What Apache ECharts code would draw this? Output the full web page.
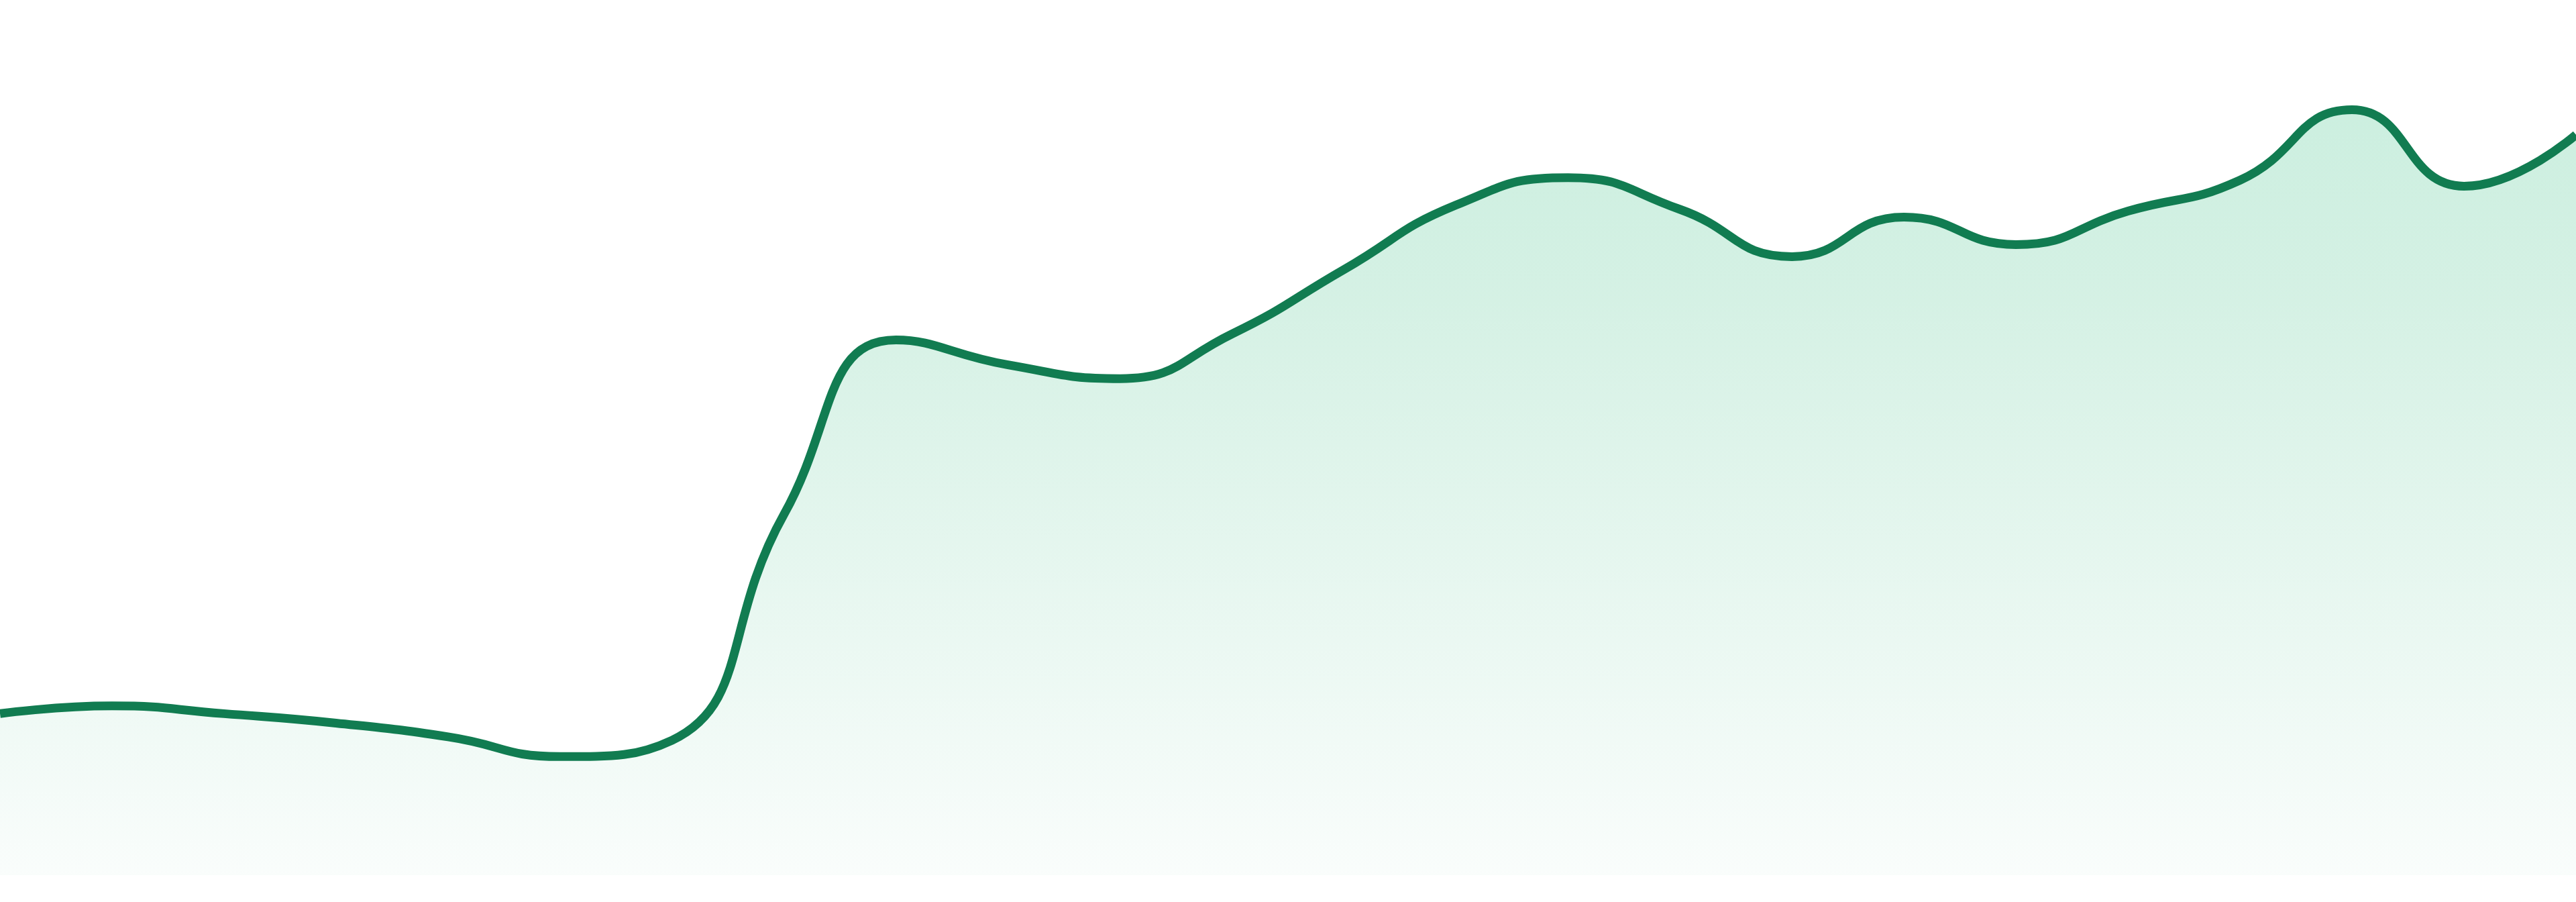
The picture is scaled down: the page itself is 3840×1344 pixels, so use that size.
<!DOCTYPE html>
<html>
<head>
<meta charset="utf-8">
<script src="https://cdn.jsdelivr.net/npm/echarts@6/dist/echarts.min.js"></script>
<style>
html,body{margin:0;padding:0;background:#ffffff;}
#chart{width:3840px;height:1344px;}
</style>
</head>
<body>
<div id="chart"></div>
<script>
const categories = ['1','2','3','4','5','6','7','8','9','10','11','12','13','14','15','16','17','18','19','20','21','22','23','24'];
const values = [18.8, 19.7, 18.8, 17.7, 16.1, 13.8, 15.7, 42.0, 62.3, 59.4, 57.8, 63.0, 70.5, 78.0, 81.2, 77.5, 72.0, 76.6, 73.4, 77.3, 80.9, 89.1, 80.2, 86.2];
const yMin = 0;
const yMax = 100;

const chart = echarts.init(document.getElementById('chart'), null, {renderer: 'canvas'});
chart.setOption({
  animation: false,
  backgroundColor: '#ffffff',
  grid: {left: 0, right: 0, top: 24, bottom: 40},
  xAxis: {
    type: 'category',
    data: categories,
    boundaryGap: false,
    show: false
  },
  yAxis: {
    type: 'value',
    min: yMin,
    max: yMax,
    show: false
  },
  series: [{
    type: 'line',
    data: values,
    smooth: true,
    symbol: 'none',
    lineStyle: {color: '#117c51', width: 13},
    areaStyle: {
      color: new echarts.graphic.LinearGradient(0, 0, 0, 1, [
        {offset: 0, color: '#b6e8d2'},
        {offset: 0.25, color: '#c3ebd9'},
        {offset: 1, color: '#f7fcfa'}
      ])
    }
  }]
});
</script>
</body>
</html>
